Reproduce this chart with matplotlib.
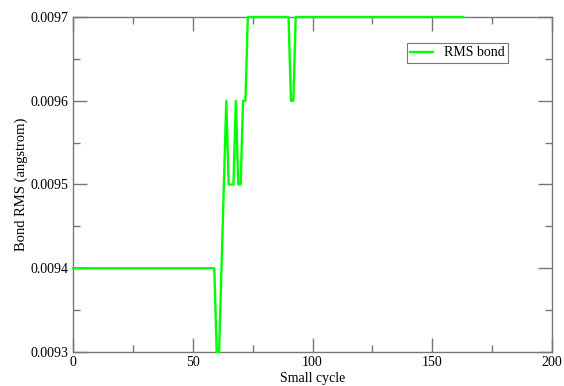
import matplotlib
matplotlib.use("Agg")
import matplotlib.pyplot as plt
from matplotlib.ticker import MultipleLocator

plt.rcParams['font.family'] = ['Liberation Serif', 'DejaVu Serif']

# small cycle index -> RMS bond value
cycle = [0, 59, 60, 61, 64, 65, 67, 68, 69, 70, 71, 72, 73, 90, 91, 92, 93, 163]
rms_bond = [0.0094, 0.0094, 0.0093, 0.0093, 0.0096, 0.0095, 0.0095, 0.0096,
            0.0095, 0.0095, 0.0096, 0.0096, 0.0097, 0.0097, 0.0096, 0.0096,
            0.0097, 0.0097]

fig = plt.figure(figsize=(5.64, 3.86), dpi=100)
ax = fig.add_axes([73/564, 1-352/386, (552-73)/564, (352-17)/386])

ax.plot(cycle, rms_bond, color='#00ff00', linewidth=1.7, label='RMS bond',
        clip_on=False, zorder=5)

ax.set_xlim(0, 200)
ax.set_ylim(0.0093, 0.0097)
ax.xaxis.set_major_locator(MultipleLocator(50))
ax.xaxis.set_minor_locator(MultipleLocator(25))
ax.yaxis.set_major_locator(MultipleLocator(0.0001))
ax.yaxis.set_minor_locator(MultipleLocator(0.00005))
ax.set_yticklabels(['%.4f' % v for v in ax.get_yticks()])

for s in ax.spines.values():
    s.set_color('#777777')
    s.set_linewidth(1.0)
ax.tick_params(which='both', direction='in', top=True, right=True,
               color='#777777', labelsize=10, pad=3)
ax.tick_params(which='major', length=10, width=1)
ax.tick_params(which='minor', length=5, width=1)

ax.set_xlabel('Small cycle', fontsize=10, labelpad=2)
ax.set_ylabel('Bond RMS (angstrom)', fontsize=10.5, labelpad=2)

leg = ax.legend(loc='upper left', bbox_to_anchor=(407/564, 1-43/386),
                bbox_transform=fig.transFigure, fontsize=10, fancybox=False,
                handlelength=1.6, borderpad=0.25, borderaxespad=0,
                handletextpad=0.8, framealpha=1)
leg.get_frame().set_edgecolor('#777777')
leg.get_frame().set_linewidth(0.8)

fig.savefig('out.png', dpi=100)
